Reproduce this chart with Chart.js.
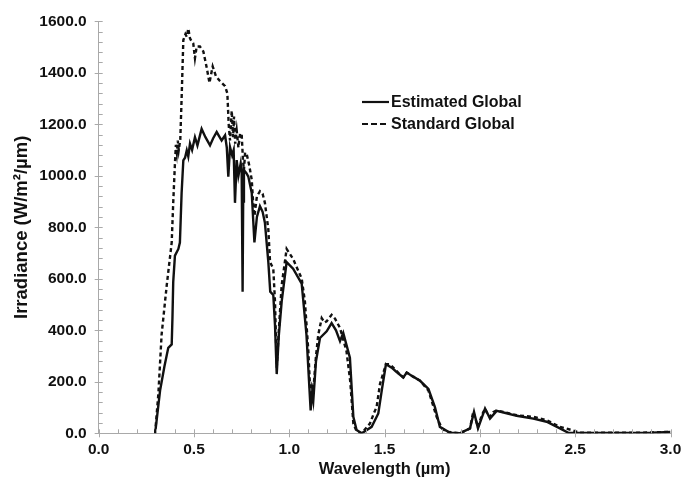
<!DOCTYPE html>
<html>
<head>
<meta charset="utf-8">
<script src="https://cdn.jsdelivr.net/npm/chart.js@4.4.1/dist/chart.umd.min.js"></script>
<style>
  html, body { margin: 0; padding: 0; background: #fff; }
  #wrap { width: 692px; height: 482px; }
</style>
</head>
<body>
<div id="wrap"><canvas id="myChart" width="692" height="482"></canvas></div>
<script>
// Spectral irradiance, wavelength in µm, irradiance in W/m²/µm
const seriesNames = ["Estimated Global", "Standard Global"];

const estWavelength = [0.296, 0.322, 0.345, 0.365, 0.383, 0.387, 0.391, 0.400, 0.418, 0.426,
  0.435, 0.444, 0.453, 0.462, 0.470, 0.479, 0.490, 0.505, 0.518, 0.540,
  0.560, 0.584, 0.600, 0.619, 0.645, 0.663, 0.672, 0.680, 0.689, 0.700,
  0.708, 0.715, 0.724, 0.733, 0.745, 0.750, 0.755, 0.758, 0.762, 0.775,
  0.785, 0.803, 0.817, 0.830, 0.846, 0.860, 0.872, 0.890, 0.900, 0.916,
  0.925, 0.934, 0.945, 0.960, 0.986, 1.020, 1.065, 1.090, 1.112, 1.120,
  1.126, 1.140, 1.161, 1.196, 1.222, 1.245, 1.266, 1.283, 1.318, 1.336,
  1.353, 1.380, 1.432, 1.467, 1.485, 1.507, 1.537, 1.560, 1.598, 1.616,
  1.650, 1.686, 1.730, 1.764, 1.790, 1.843, 1.895, 1.948, 1.969, 1.990,
  2.027, 2.053, 2.088, 2.140, 2.193, 2.280, 2.350, 2.420, 2.464, 2.700,
  2.900, 3.000];
const estIrradiance = [0, 166, 260, 332, 345, 450, 588, 690, 716, 741,
  933, 1060, 1070, 1099, 1075, 1125, 1100, 1150, 1118, 1182,
  1150, 1118, 1145, 1170, 1137, 1157, 1110, 997, 1112, 1080,
  1100, 895, 1061, 1000, 1048, 1020, 550, 900, 1022, 1010,
  997, 933, 741, 840, 882, 860, 818, 665, 550, 537,
  420, 230, 380, 511, 665, 639, 581, 383, 89, 160,
  128, 280, 370, 396, 428, 400, 358, 390, 294, 64,
  13, 0, 25, 77, 166, 268, 255, 240, 217, 236,
  220, 204, 172, 102, 25, 2, 0, 19, 83, 19,
  96, 57, 87, 78, 68, 57, 45, 19, 2, 1,
  2, 5];

const stdWavelength = [0.296, 0.313, 0.330, 0.357, 0.383, 0.391, 0.400, 0.405, 0.410, 0.415,
  0.420, 0.428, 0.435, 0.444, 0.455, 0.462, 0.470, 0.479, 0.488, 0.496,
  0.505, 0.514, 0.531, 0.549, 0.567, 0.581, 0.598, 0.615, 0.636, 0.663,
  0.675, 0.682, 0.689, 0.698, 0.705, 0.710, 0.716, 0.724, 0.733, 0.742,
  0.750, 0.757, 0.762, 0.768, 0.776, 0.790, 0.803, 0.810, 0.817, 0.830,
  0.846, 0.860, 0.872, 0.890, 0.899, 0.916, 0.925, 0.934, 0.945, 0.960,
  0.986, 1.020, 1.065, 1.082, 1.100, 1.112, 1.120, 1.126, 1.140, 1.152,
  1.170, 1.185, 1.196, 1.222, 1.240, 1.266, 1.300, 1.320, 1.336, 1.353,
  1.380, 1.423, 1.445, 1.458, 1.476, 1.507, 1.528, 1.560, 1.575, 1.598,
  1.616, 1.650, 1.686, 1.730, 1.773, 1.800, 1.826, 1.895, 1.948, 1.965,
  1.975, 1.990, 2.010, 2.027, 2.040, 2.053, 2.070, 2.088, 2.140, 2.193,
  2.280, 2.350, 2.420, 2.480, 2.525, 2.700, 2.900, 3.000];
const stdIrradiance = [0, 153, 383, 575, 741, 895, 1048, 1120, 1090, 1137,
  1100, 1140, 1300, 1527, 1550, 1540, 1572, 1534, 1521, 1515,
  1457, 1502, 1502, 1483, 1419, 1361, 1425, 1387, 1368, 1348,
  1320, 1200, 1137, 1253, 1150, 1230, 1125, 1176, 1110, 1165,
  1163, 1060, 1022, 1090, 1086, 1040, 984, 900, 844, 920,
  940, 930, 895, 792, 665, 639, 511, 255, 400, 575,
  716, 677, 601, 511, 319, 128, 180, 166, 300, 383,
  447, 430, 435, 460, 445, 409, 319, 200, 38, 8,
  0, 38, 80, 102, 192, 268, 268, 245, 232, 217,
  236, 220, 204, 166, 64, 20, 6, 0, 19, 83,
  60, 25, 70, 96, 75, 64, 82, 89, 80, 70,
  64, 51, 25, 13, 2, 2, 3, 6];

const xTicks = [0, 0.5, 1.0, 1.5, 2.0, 2.5, 3.0];
const yTicks = [0, 200, 400, 600, 800, 1000, 1200, 1400, 1600];

const toPoints = (xs, ys) => xs.map((x, i) => ({ x: x, y: ys[i] }));

const FONT = "'Liberation Sans', Arial, Helvetica, sans-serif";
const AXIS_GREY = "#a9a9a9";

// tick marks: majors cross the axis, minors point into the plot
const axisTicks = {
    id: "axisTicks",
    afterDraw(chart) {
        const ctx = chart.ctx;
        const xs = chart.scales.x, ys = chart.scales.y;
        const x0 = xs.left, y0 = ys.bottom;
        ctx.save();
        ctx.strokeStyle = AXIS_GREY;
        ctx.lineWidth = 1;
        ctx.beginPath();
        for (let i = 0; i <= 40; i++) {
            const v = i * 40;
            const py = Math.round(ys.getPixelForValue(v)) + 0.5;
            const major = v % 200 === 0;
            ctx.moveTo(major ? x0 - 4 : x0, py);
            ctx.lineTo(x0 + 4, py);
        }
        for (let i = 0; i <= 30; i++) {
            const px = Math.round(xs.getPixelForValue(i / 10)) + 0.5;
            const major = i % 5 === 0;
            ctx.moveTo(px, y0 - 4);
            ctx.lineTo(px, major ? y0 + 4 : y0);
        }
        ctx.stroke();
        ctx.restore();
    }
};

// legend sitting inside the plot area
const insideLegend = {
    id: "insideLegend",
    afterDraw(chart) {
        const ctx = chart.ctx;
        const rows = [
            { y: 102, dash: [] },
            { y: 124, dash: [6, 3] }
        ];
        ctx.save();
        ctx.font = "bold 16px " + FONT;
        ctx.fillStyle = "#111";
        ctx.textBaseline = "middle";
        rows.forEach((r, i) => {
            ctx.strokeStyle = "#111";
            ctx.lineWidth = 2.2;
            ctx.setLineDash(r.dash);
            ctx.beginPath();
            ctx.moveTo(362, r.y);
            ctx.lineTo(389, r.y);
            ctx.stroke();
            ctx.fillText(seriesNames[i], 391, r.y + 1);
        });
        ctx.restore();
    }
};

new Chart(document.getElementById("myChart"), {
    type: "line",
    data: {
        datasets: [
            {
                label: seriesNames[0],
                data: toPoints(estWavelength, estIrradiance),
                borderColor: "#111",
                borderWidth: 2.4,
                pointRadius: 0,
                tension: 0
            },
            {
                label: seriesNames[1],
                data: toPoints(stdWavelength, stdIrradiance),
                borderColor: "#111",
                borderWidth: 2.4,
                borderDash: [4, 3],
                pointRadius: 0,
                tension: 0
            }
        ]
    },
    options: {
        responsive: false,
        animation: false,
        layout: { padding: { top: 16, right: 21.5, left: 0, bottom: 0 } },
        plugins: { legend: { display: false }, tooltip: { enabled: false } },
        scales: {
            x: {
                type: "linear",
                min: 0, max: 3,
                afterBuildTicks: s => { s.ticks = xTicks.map(v => ({ value: v })); },
                afterFit: s => { s.height = 48.7; },
                grid: { display: false, drawTicks: false },
                border: { display: true, color: AXIS_GREY, width: 1 },
                ticks: {
                    padding: 7,
                    color: "#111",
                    font: { family: FONT, size: 15.5, weight: "bold" },
                    callback: v => Number(v).toFixed(1)
                },
                title: {
                    display: true,
                    text: "Wavelength (µm)",
                    color: "#111",
                    font: { family: FONT, size: 16.5, weight: "bold" },
                    padding: { top: 0, bottom: 3 }
                }
            },
            y: {
                min: 0, max: 1600,
                afterBuildTicks: s => { s.ticks = yTicks.map(v => ({ value: v })); },
                afterFit: s => { s.width = 98.7; },
                grid: { display: false, drawTicks: false },
                border: { display: true, color: AXIS_GREY, width: 1 },
                ticks: {
                    padding: 12,
                    color: "#111",
                    font: { family: FONT, size: 15.5, weight: "bold" },
                    callback: v => Number(v).toFixed(1)
                },
                title: {
                    display: true,
                    text: "Irradiance (W/m²/µm)",
                    color: "#111",
                    font: { family: FONT, size: 18.5, weight: "bold" },
                    padding: { top: 11, bottom: 0 }
                }
            }
        }
    },
    plugins: [axisTicks, insideLegend]
});
</script>
</body>
</html>
